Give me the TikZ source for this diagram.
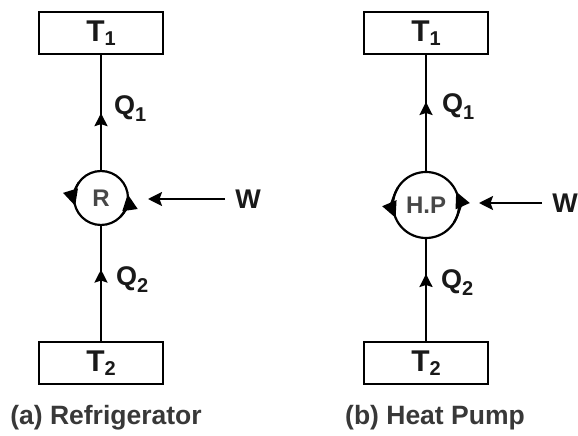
\documentclass[tikz,border=0pt]{standalone}
\usepackage{fontspec}
\setmainfont{Liberation Sans}
\usetikzlibrary{arrows.meta, decorations.markings}

\newcommand{\lowsub}[2]{\raisebox{-#2}{\fontsize{20}{20}\selectfont #1}}

\begin{document}
\begin{tikzpicture}[x=1pt, y=1pt,
    reservoir/.style={draw, line width=2.6pt, minimum width=124pt, minimum height=42pt, inner sep=0pt, font=\bfseries\fontsize{30}{34}\selectfont, text=black!90},
    engine/.style={draw, circle, line width=2.2pt, inner sep=0pt, outer sep=0pt, font=\bfseries\fontsize{24}{26}\selectfont, text=black!72},
    lbl/.style={font=\bfseries\fontsize{27}{30}\selectfont, text=black!90, inner sep=2pt},
    caption/.style={font=\bfseries\fontsize{26.5}{30}\selectfont, text=black!78},
    heat/.style={line width=2.2pt, decoration={markings, mark=at position #1 with {\arrow{Stealth[length=13pt,width=13pt,inset=2pt]}}}, postaction={decorate}},
    work/.style={line width=2.2pt, -{Stealth[length=14pt,width=14pt,inset=2.5pt]}, shorten <=8pt, shorten >=20pt},
    spin/.style={line width=2.2pt, -{Triangle[length=16pt,width=15pt]}}
]
    \useasboundingbox (0,0) rectangle (578,436);

    % (a) Refrigerator
    \node[reservoir] (t1a) at (101,403) {T\lowsub{1}{4pt}};
    \node[engine, minimum size=54pt] (ra) at (101,238) {R};
    \node[reservoir] (t2a) at (101,73) {T\lowsub{2}{4pt}};
    \node[lbl, anchor=west] (q1a) at (112,327) {Q\lowsub{1}{7pt}};
    \node[lbl, anchor=west] (q2a) at (114,156) {Q\lowsub{2}{7pt}};
    \node[lbl] (wa) at (248,237) {W};
    \node[caption] (capa) at (106,18) {(a) Refrigerator};

    % (b) Heat Pump
    \node[reservoir] (t1b) at (426,403) {T\lowsub{1}{4pt}};
    \node[engine, minimum size=66pt] (hp) at (426,231) {H.P};
    \node[reservoir] (t2b) at (426,73) {T\lowsub{2}{4pt}};
    \node[lbl, anchor=west] (q1b) at (440,329) {Q\lowsub{1}{7pt}};
    \node[lbl, anchor=west] (q2b) at (439,153) {Q\lowsub{2}{7pt}};
    \node[lbl] (wb) at (565,233) {W};
    \node[caption] (capb) at (435,18) {(b) Heat Pump};

    % Heat flows
    \draw[heat=0.5] (ra.north) -- (t1a.south);
    \draw[heat=0.615] (t2a.north) -- (ra.south);
    \draw[heat=0.6] (hp.north) -- (t1b.south);
    \draw[heat=0.65] (t2b.north) -- (hp.south);

    % Work input
    \draw[work] (wa.west) -- (wa.west -| ra.east);
    \draw[work] (wb.west) -- (wb.west -| hp.east);

    % Cycle direction
    \draw[spin] (ra.145) arc[start angle=145, end angle=197, radius=27pt];
    \draw[spin] (ra.-45) arc[start angle=-45, end angle=8, radius=27pt];
    \draw[spin] (hp.148) arc[start angle=148, end angle=203, radius=33pt];
    \draw[spin] (hp.-32) arc[start angle=-32, end angle=24, radius=33pt];

\end{tikzpicture}
\end{document}
